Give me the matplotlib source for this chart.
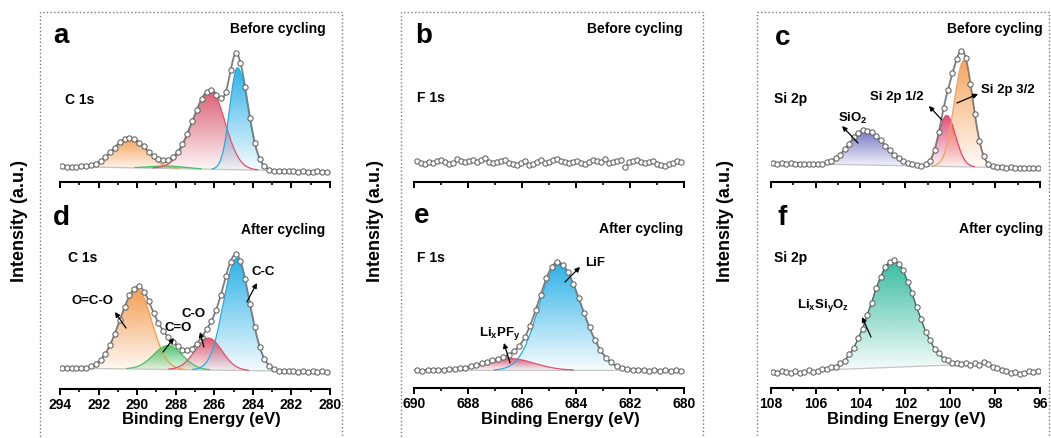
import numpy as np
import matplotlib
matplotlib.use("Agg")
import matplotlib.pyplot as plt
from matplotlib.path import Path
from matplotlib.patches import PathPatch, Rectangle
from matplotlib.colors import to_rgb
from matplotlib.ticker import MultipleLocator

plt.rcParams["font.family"] = ["Liberation Sans", "DejaVu Sans"]
plt.rcParams["font.weight"] = "bold"
plt.rcParams["mathtext.fontset"] = "custom"
plt.rcParams["mathtext.rm"] = "Liberation Sans:bold"
plt.rcParams["mathtext.it"] = "Liberation Sans:bold"
plt.rcParams["mathtext.bf"] = "Liberation Sans:bold"

W, H = 1051, 438

# ---------------- data (intensity in arbitrary units) ----------------
# a: C 1s before cycling, measured points from 293.9 eV to 280.15 eV
a_int = [15.6, 15.2, 15.5, 15.1, 15.7, 15.8, 16.9, 18.2, 21.3, 24.6,
         29.9, 34.5, 39.8, 43.3, 44.1, 43.5, 39.5, 35.6, 30.1, 26.4,
         22.8, 21.9, 22.0, 25.3, 29.7, 38.3, 47.8, 60.6, 72.2, 83.5,
         89.6, 91.9, 87.2, 83.8, 89.6, 111.7, 128.9, 119.1, 95.0, 64.0,
         39.5, 23.0, 15.8, 12.2, 11.3, 11.0, 10.8, 11.3, 10.7, 10.3,
         10.9, 10.4, 10.0, 10.6, 10.1, 10.3]
a_range = (293.9, 280.15)
a_bg = (294, 15.5, 280, 10.5)
# (centre eV, height, sigma on high-BE side, sigma on low-BE side, colour)
a_peaks = [(290.4, 30, 0.85, 0.85, "#f39a4c"),
           (288.4, 2.5, 0.9, 0.9, "#45c266"),
           (286.2, 79, 0.92, 0.75, "#d9546b"),
           (284.8, 102, 0.4, 0.55, "#22aee6")]

# d: C 1s after cycling
d_int = [21.3, 20.6, 21.2, 20.7, 21.5, 21.4, 23.2, 24.8, 29.5, 35.0,
         44.5, 55.3, 69.1, 81.6, 93.6, 100.2, 102.8, 97.2, 88.2, 76.0,
         66.4, 57.8, 52.5, 46.6, 42.9, 39.2, 38.9, 40.1, 44.8, 51.7,
         59.8, 67.6, 79.5, 94.2, 112.9, 127.4, 134.6, 127.7, 110.4, 85.1,
         61.6, 42.2, 30.4, 22.9, 20.3, 18.3, 18.4, 17.6, 18.1, 17.4,
         17.9, 17.3, 17.7, 17.1, 17.6, 17.2]
d_range = (293.9, 280.15)
d_bg = (294, 21.0, 280, 17.3)
d_peaks = [(290.0, 80, 0.9, 0.75, "#f39a4c"),
           (288.4, 24, 0.75, 0.75, "#45c266"),
           (284.84, 112, 0.68, 0.68, "#22aee6"),
           (286.3, 32, 0.7, 0.7, "#d9546b")]

# b: F 1s before cycling (no signal)
b_int = [21, 19, 18, 20, 19, 21, 22, 20, 18, 19, 23, 21, 20, 21, 22, 20,
         22, 24, 20, 19, 20, 21, 22, 19, 18, 17, 19, 21, 17, 18, 20, 22,
         19, 20, 22, 23, 21, 20, 19, 20, 21, 19, 18, 20, 22, 21, 20, 23,
         19, 20, 21, 22, 15, 20, 21, 22, 20, 19, 20, 21, 18, 17, 16, 18,
         19, 21, 20]
b_range = (689.9, 680.1)

# e: F 1s after cycling
e_int = [17.9, 17.5, 18.2, 17.8, 18.3, 18.1, 18.9, 18.8, 20.1, 20.4,
         22.0, 22.7, 24.7, 25.6, 27.8, 28.6, 31.0, 32.8, 37.0, 41.9,
         50.9, 62.1, 77.8, 93.4, 109.8, 120.6, 126.1, 123.2, 116.2, 104.0,
         90.3, 74.6, 60.9, 47.9, 38.5, 30.5, 25.9, 21.9, 20.3, 18.7,
         18.4, 17.6, 18.0, 17.5, 17.9, 17.4, 17.8, 17.3, 17.7, 17.5]
e_range = (689.9, 680.1)
e_bg = (690, 17.8, 680, 17.5)
e_peaks = [(684.66, 106.5, 0.71, 0.86, "#22aee6"),
           (686.44, 11.7, 1.0, 0.9, "#d9546b")]

# c: Si 2p before cycling
c_int = [18.9, 18.3, 18.7, 18.2, 18.6, 18.0, 18.4, 17.9, 18.3, 17.8,
         18.4, 18.3, 19.8, 20.8, 24.0, 27.3, 32.9, 38.2, 44.6, 48.7,
         51.9, 51.4, 50.1, 45.9, 41.9, 36.3, 32.0, 27.1, 24.1, 20.7,
         19.3, 17.6, 17.2, 16.5, 17.7, 21.4, 32.4, 50.5, 73.8, 92.1,
         109.3, 123.4, 131.0, 123.6, 98.4, 67.8, 41.2, 25.8, 17.8, 15.9,
         14.6, 14.8, 14.2, 14.6, 14.0, 14.4, 13.9, 14.2, 13.7, 14.0]
c_range = (107.9, 96.1)
c_bg = (108, 18.7, 96, 13.8)
c_peaks = [(103.8, 35, 0.7, 0.85, "#6b6bbf"),
           (100.16, 51, 0.35, 0.4, "#e2456e"),
           (99.4, 106, 0.42, 0.42, "#f4a259")]

# f: Si 2p after cycling
f_int = [16.2, 15.0, 17.5, 15.8, 14.6, 16.9, 15.3, 16.5, 17.8, 16.1,
         17.2, 18.6, 19.0,
         20.6, 21.5, 24.9, 27.5, 33.8, 39.6, 50.1, 59.5, 73.5, 85.2,
         100.4, 110.6, 121.5, 125.8, 128.3, 123.9, 117.9, 106.2, 95.1, 80.6,
         69.2, 56.3, 48.0, 39.1, 34.6, 29.4, 27.8, 25.2, 24.9,
         24.1, 25.3, 23.4, 24.6, 22.8, 25.6, 23.9, 21.4, 19.8, 18.4,
         16.9, 15.3, 16.2, 14.4, 15.1, 17.2, 15.8, 17.1]
f_range = (107.9, 96.1)
f_bg = (105.3, 18.3, 99.6, 23.3)
f_peaks = [(102.55, 107, 0.97, 0.97, "#2bb89a")]

# --------------------------------------------------------------------
fig = plt.figure(figsize=(W / 100, H / 100), dpi=100)


def add_axes(x0, x1, ytop, ybot):
    ax = fig.add_axes([x0 / W, 1 - ybot / H, (x1 - x0) / W, (ybot - ytop) / H])
    ax.set_ylim(0, ybot - ytop)
    return ax


def style(ax, xlim, labels):
    for s in ["left", "right", "top"]:
        ax.spines[s].set_visible(False)
    ax.spines["bottom"].set_linewidth(1.5)
    ax.set_xlim(xlim)
    ax.set_yticks([])
    ax.xaxis.set_major_locator(MultipleLocator(2))
    ax.xaxis.set_minor_locator(MultipleLocator(1))
    ax.tick_params(axis="x", which="major", direction="out", length=4,
                   width=1.4, labelsize=10, pad=2.5, labelbottom=labels)
    ax.tick_params(axis="x", which="minor", direction="out", length=2.5,
                   width=1.2)
    ax.patch.set_visible(False)


def peak(xs, c, h, s_hi, s_lo):
    s = np.where(xs > c, s_hi, s_lo)
    return h * np.exp(-(xs - c) ** 2 / (2 * s ** 2))


def grad_fill(ax, xs, base, top, color, z):
    verts = np.concatenate([np.column_stack([xs, top]),
                            np.column_stack([xs[::-1], base[::-1]])])
    patch = PathPatch(Path(verts), facecolor="none", edgecolor="none")
    ax.add_patch(patch)
    grad = np.zeros((100, 1, 4))
    grad[..., :3] = to_rgb(color)
    grad[:, 0, 3] = np.linspace(0.04, 0.95, 100)
    im = ax.imshow(grad, extent=[xs.min(), xs.max(), base.min(), top.max()],
                   origin="lower", aspect="auto", zorder=z,
                   interpolation="bilinear")
    im.set_clip_path(patch)


def draw_fit(ax, bg, peaks, lo, hi, envelope=True):
    xs = np.linspace(lo, hi, 800)
    base = bg[1] + (xs - bg[0]) * (bg[3] - bg[1]) / (bg[2] - bg[0])
    total = base.copy()
    comps = []
    for i, (c, h, s1, s2, col) in enumerate(peaks):
        comp = peak(xs, c, h, s1, s2)
        total += comp
        grad_fill(ax, xs, base, base + comp, col, 2 + i * 0.1)
        comps.append((comp, col))
    for comp, col in comps:
        m = comp > 0.4
        ax.plot(xs[m], (base + comp)[m], color=col, lw=0.9, zorder=4)
    ax.plot(xs, base, color="#c4c4c4", lw=0.9, zorder=3)
    if envelope:
        ax.plot(xs, total, color="#7d7d7d", lw=1.3, zorder=5)


def points(ax, rng, vals, line=False):
    be = np.linspace(rng[0], rng[1], len(vals))
    ax.plot(be, vals, "-o" if line else "o", color="#5a5a5a", lw=0.8,
            ms=3.8, mfc="white", mec="#606060", mew=0.75, zorder=6)


def ftext(x, y, s, **kw):
    fig.text(x / W, 1 - y / H, s, **kw)


def arrow(ax, txt, tpos, tail, head, size=9.5):
    ax.text(tpos[0], tpos[1], txt, ha="center", va="center", fontsize=size,
            fontweight="bold", zorder=9)
    ax.annotate("", xy=head, xytext=tail,
                arrowprops=dict(arrowstyle="-|>", color="black", lw=0.9,
                                mutation_scale=7, shrinkA=0, shrinkB=0),
                zorder=9)


# column boxes
for x0, x1 in [(40, 342), (401, 703), (757, 1049)]:
    fig.add_artist(Rectangle((x0 / W, -0.05), (x1 - x0) / W, 1.05 - 12 / H,
                             transform=fig.transFigure, fill=False,
                             ls=":", lw=1.0, ec="#7a7a7a"))

# panel a
ax = add_axes(60, 330, 14, 182)
draw_fit(ax, a_bg, a_peaks, 280, 294)
points(ax, a_range, a_int)
style(ax, (294, 280), False)

# panel d
ax = add_axes(60, 330, 205, 389)
draw_fit(ax, d_bg, d_peaks, 280, 294)
points(ax, d_range, d_int)
style(ax, (294, 280), True)
arrow(ax, "O=C-O", (292.29, 88), (290.58, 61), (291.15, 77))
arrow(ax, "C=O", (287.88, 61), (288.66, 37), (288.09, 51))
arrow(ax, "C-O", (287.1, 75), (286.54, 42), (286.74, 57))
arrow(ax, "C-C", (283.48, 117), (284.31, 87), (283.79, 106))

# panel b
ax = add_axes(414, 684, 14, 182)
points(ax, b_range, b_int)
style(ax, (690, 680), False)

# panel e
ax = add_axes(414, 684, 205, 388)
draw_fit(ax, e_bg, e_peaks, 680, 690)
points(ax, e_range, e_int)
style(ax, (690, 680), True)
arrow(ax, "LiF", (683.3, 125), (684.41, 106), (683.85, 121))
arrow(ax, "Li$_x$PF$_y$", (686.81, 55), (686.44, 25), (686.67, 45))

# panel c
ax = add_axes(770.7, 1040, 14, 182)
draw_fit(ax, c_bg, c_peaks, 96, 108)
points(ax, c_range, c_int)
style(ax, (108, 96), False)
arrow(ax, "SiO$_2$", (104.33, 64), (104.11, 39), (104.82, 56))
arrow(ax, "Si 2p 1/2", (102.37, 85), (100.37, 62), (100.95, 76))
arrow(ax, "Si 2p 3/2", (97.43, 92), (99.7, 79), (98.76, 88))

# panel f
ax = add_axes(770.7, 1040, 205, 388)
draw_fit(ax, f_bg, f_peaks, 99.6, 105.3, envelope=False)
points(ax, f_range, f_int, line=True)
style(ax, (108, 96), True)
arrow(ax, "Li$_x$Si$_y$O$_z$", (105.67, 83), (103.53, 51), (103.93, 71))

# panel letters and labels
for s, x, y in [("a", 53, 43.3), ("b", 415, 43.3), ("c", 775, 45),
                ("d", 53, 225), ("e", 414, 223.3), ("f", 777, 225)]:
    ftext(x, y, s, fontsize=20, fontweight="bold", va="baseline")
for s, x, y in [("Before cycling", 326, 32.5), ("Before cycling", 683, 33),
                ("Before cycling", 1043, 33), ("After cycling", 325, 234.5),
                ("After cycling", 683, 233.5), ("After cycling", 1043, 233.5)]:
    ftext(x, y, s, fontsize=10, fontweight="bold", ha="right", va="baseline")
for s, x, y in [("C 1s", 65, 103.5), ("C 1s", 68, 261.7),
                ("F 1s", 417, 101.7), ("F 1s", 417, 261.7),
                ("Si 2p", 774, 103.5), ("Si 2p", 774, 261.7)]:
    ftext(x, y, s, fontsize=10, fontweight="bold", va="baseline")
for x in [201, 560, 906]:
    ftext(x, 424, "Binding Energy (eV)", fontsize=12, fontweight="bold",
          ha="center", va="baseline")
for x in [19.5, 375, 726]:
    ftext(x, 221, "Intensity (a.u.)", fontsize=13, fontweight="bold",
          ha="center", va="center", rotation=90)

fig.savefig("out.png", dpi=100)
